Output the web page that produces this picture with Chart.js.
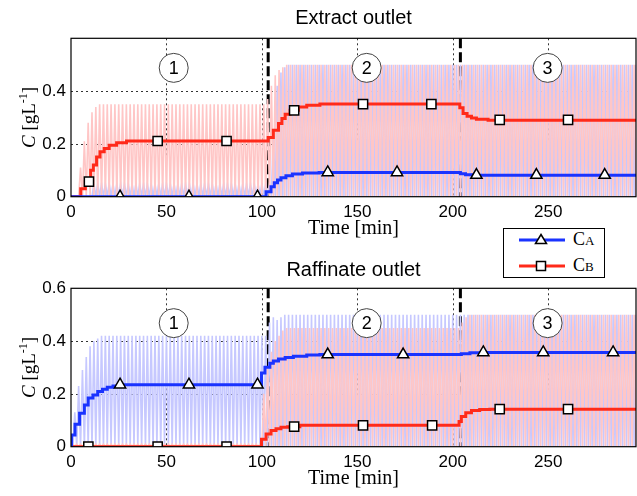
<!DOCTYPE html>
<html>
<head>
<meta charset="utf-8">
<script src="https://cdn.jsdelivr.net/npm/chart.js@4.4.0/dist/chart.umd.min.js"></script>
<style>
  body { margin: 0; background: #fff; }
  #wrap { position: relative; width: 637px; height: 496px; }
  #extractChart { position: absolute; left: 0; top: 0; }
  #raffinateChart { position: absolute; left: 0; top: 250px; }
  .legend {
    position: absolute; left: 503px; top: 228px; width: 100px; height: 48px;
    border: 1.3px solid #000; background: #fff; z-index: 2;
    font-family: "Liberation Serif", "DejaVu Serif", serif;
  }
  .legend .row { position: absolute; left: 0; height: 20px; width: 100px; }
  .legend svg { position: absolute; left: 15px; top: 0; }
  .legend .lbl { position: absolute; left: 69px; top: -1px; font-size: 18px; line-height: 20px; }
  .legend .lbl small { font-size: 13px; }
</style>
</head>
<body>
<div id="wrap">
  <canvas id="extractChart" width="637" height="250"></canvas>
  <canvas id="raffinateChart" width="637" height="246"></canvas>
  <div class="legend">
    <div class="row" style="top: 1px;">
      <svg width="46" height="20"><line x1="0" y1="10" x2="46" y2="10" stroke="#1a33ff" stroke-width="3"/><polygon points="22,4.5 27.5,13.5 16.5,13.5" fill="#fff" stroke="#000" stroke-width="1.5"/></svg>
      <span class="lbl">C<small>A</small></span>
    </div>
    <div class="row" style="top: 27px;">
      <svg width="46" height="20"><line x1="0" y1="10" x2="46" y2="10" stroke="#ff2a1a" stroke-width="3"/><rect x="17.5" y="5.5" width="9" height="9" fill="#fff" stroke="#000" stroke-width="1.5"/></svg>
      <span class="lbl">C<small>B</small></span>
    </div>
  </div>
</div>
<script>
// ---------- data (time in min, concentration in g/L) ----------

const timeTicks = [0, 50, 100, 150, 200, 250];
const extractConcTicks = [0, 0.2, 0.4];
const raffinateConcTicks = [0, 0.2, 0.4, 0.6];

const switchPeriod = 2;
const phaseChanges = [103.3, 204];
const zoneLabels = ['1', '2', '3'];

function rep(v, n) {
    return Array(n).fill(v);
}

// Extract outlet, switch-averaged curves (step start time / value)
const extractTimeA = [0, 102.2, 104.8, 106.5, 108.2, 110, 112.6, 116, 121.3, 130, 204, 206.7, 212, 296];
const extractA = [0, 0.019, 0.038, 0.053, 0.063, 0.072, 0.079, 0.086, 0.09, 0.092, 0.087, 0.083, 0.081, 0.081];
const extractTimeB = [0, 5.1, 7.5, 10.3, 11.7, 13.4, 15.2, 17.4, 20, 23.9, 29.1, 103.3, 106, 108.7, 110.5, 112.2, 114.8, 119.2, 123.5, 130.4, 203.7, 205.4, 207.5, 209.8, 212.4, 218.5, 296];
const extractB = [0, 0.03, 0.057, 0.1, 0.12, 0.15, 0.17, 0.183, 0.195, 0.204, 0.211, 0.224, 0.252, 0.277, 0.296, 0.312, 0.327, 0.34, 0.346, 0.351, 0.337, 0.315, 0.305, 0.298, 0.293, 0.29, 0.29];

// Extract outlet markers
const extractMarkTimeA = [25.7, 61.8, 97.7, 134.5, 170.8, 212.4, 243.8, 279.6];
const extractMarkA = [0, 0, 0, 0.092, 0.092, 0.082, 0.082, 0.082];
const extractMarkTimeB = [9.4, 45.4, 81.5, 116.9, 153, 188.8, 224.6, 260.4];
const extractMarkB = [0.057, 0.211, 0.211, 0.327, 0.351, 0.351, 0.291, 0.291];

// Extract outlet raw signal, peak value in each switching period
const extractPeaksA = [...rep(0, 5), ...rep(0.05, 47), 0.25, 0.42, 0.47, 0.49, ...rep(0.5, 92)];
const extractPeaksB = [0, 0, 0.11, 0.21, 0.28, 0.32, 0.34, ...rep(0.35, 44), 0.37, 0.42, 0.46, 0.48, 0.49, ...rep(0.5, 92)];

// Raffinate outlet, switch-averaged curves
const raffinateTimeA = [0, 0.3, 2.1, 4.5, 7, 9, 11.5, 14, 16.5, 19, 22, 26, 99.8, 101.6, 104.2, 106, 108.7, 112.2, 116.5, 123.5, 130.4, 204.5, 209, 216, 296];
const raffinateA = [0, 0.044, 0.085, 0.127, 0.158, 0.184, 0.196, 0.209, 0.218, 0.225, 0.23, 0.235, 0.279, 0.301, 0.316, 0.325, 0.332, 0.338, 0.343, 0.347, 0.349, 0.352, 0.356, 0.357, 0.357];
const raffinateTimeB = [0, 99.8, 102.2, 104.8, 107.4, 110, 113.5, 119.9, 203.3, 204.5, 206.8, 209.8, 214.1, 219.4, 296];
const raffinateB = [0, 0.028, 0.048, 0.061, 0.068, 0.074, 0.076, 0.081, 0.095, 0.114, 0.129, 0.137, 0.141, 0.142, 0.142];

// Raffinate outlet markers
const raffinateMarkTimeA = [25.7, 61.8, 97.7, 134.5, 174, 216, 247.4, 284];
const raffinateMarkA = [0.235, 0.235, 0.235, 0.349, 0.349, 0.357, 0.357, 0.357];
const raffinateMarkTimeB = [9.1, 45.4, 81.5, 116.9, 153, 189.2, 224.6, 260.4];
const raffinateMarkB = [0, 0, 0, 0.076, 0.081, 0.081, 0.142, 0.142];

// Raffinate outlet raw signal, peak value in each switching period
const raffinatePeaksA = [0.13, 0.23, 0.29, 0.34, 0.38, 0.40, 0.41, ...rep(0.42, 44), 0.47, 0.49, 0.48, 0.49, ...rep(0.5, 93)];
const raffinatePeaksB = [...rep(0.01, 50), 0.2, 0.3, 0.36, 0.4, 0.42, 0.44, ...rep(0.45, 46), 0.47, 0.49, ...rep(0.5, 44)];

// ---------- styling ----------

const BLUE = '#1a33ff';
const RED = '#ff2a1a';
const PALE_BLUE = '#c6c8ff';
const PALE_RED = '#ffc6c6';
const SANS = '"Liberation Sans", Arial, sans-serif';
const SERIF = '"Liberation Serif", "DejaVu Serif", serif';

const AREA_TOP = 38.3;
const AREA_BOTTOM = 196.7;
const AREA_LEFT = 71;

function toPoints(times, values) {
    return times.map((t, i) => ({x: t, y: values[i]}));
}

// saw-tooth of the outlet signal, one tooth per switching period
function rawSignal(peaks, shift) {
    const pts = [];
    peaks.forEach((p, k) => {
        pts.push({x: k * switchPeriod + shift, y: 0});
        pts.push({x: k * switchPeriod + shift + switchPeriod / 2, y: p});
    });
    pts.push({x: peaks.length * switchPeriod + shift, y: 0});
    return pts;
}

const outletDecor = {
    id: 'outletDecor',
    beforeDatasetsDraw(chart, args, opts) {
        const {ctx, chartArea: a, scales: {x, y}} = chart;
        ctx.save();
        // dotted grid
        ctx.strokeStyle = '#000';
        ctx.lineWidth = 0.8;
        ctx.setLineDash([2, 3]);
        ctx.beginPath();
        timeTicks.slice(1).forEach(v => {
            const px = Math.round(x.getPixelForValue(v)) + 0.5;
            ctx.moveTo(px, a.top);
            ctx.lineTo(px, a.bottom);
        });
        opts.yTicks.slice(1).forEach(v => {
            const py = Math.round(y.getPixelForValue(v)) + 0.5;
            if (py <= a.top + 1) return;
            ctx.moveTo(a.left, py);
            ctx.lineTo(a.right, py);
        });
        ctx.stroke();
        // feed change markers
        ctx.lineWidth = 3;
        ctx.setLineDash([10, 4]);
        ctx.beginPath();
        phaseChanges.forEach(v => {
            const px = x.getPixelForValue(v);
            ctx.moveTo(px, a.top);
            ctx.lineTo(px, a.bottom);
        });
        ctx.stroke();
        ctx.restore();
    },
    afterDatasetsDraw(chart, args, opts) {
        const {ctx, chartArea: a, scales: {x, y}} = chart;
        ctx.save();
        // zone labels
        zoneLabels.forEach((lbl, i) => {
            const cx = x.getPixelForValue(opts.zoneTimes[i]);
            const cy = y.getPixelForValue(opts.zoneLevel);
            ctx.beginPath();
            ctx.arc(cx, cy, 14.5, 0, Math.PI * 2);
            ctx.fillStyle = '#fff';
            ctx.fill();
            ctx.lineWidth = 1;
            ctx.strokeStyle = '#444';
            ctx.stroke();
            ctx.fillStyle = '#000';
            ctx.font = '18px ' + SANS;
            ctx.textAlign = 'center';
            ctx.textBaseline = 'middle';
            ctx.fillText(lbl, cx, cy + 1);
        });
        // frame
        ctx.strokeStyle = '#000';
        ctx.lineWidth = 1.2;
        ctx.strokeRect(a.left, a.top, a.right - a.left, a.bottom - a.top);
        ctx.restore();
    },
    afterDraw(chart, args, opts) {
        const {ctx, chartArea: a} = chart;
        const midX = (a.left + a.right) / 2;
        ctx.save();
        ctx.fillStyle = '#000';
        ctx.textAlign = 'center';
        ctx.textBaseline = 'alphabetic';
        ctx.font = '20px ' + SANS;
        ctx.fillText(opts.title, midX, opts.titleBaseline);
        ctx.font = '20px ' + SERIF;
        ctx.fillText('Time [min]', midX, 234);

        // y label: C [gL^-1], rotated
        const parts = [
            {t: 'C', font: 'italic 19px ' + SERIF, dy: 0},
            {t: ' [gL', font: '19px ' + SERIF, dy: 0},
            {t: '-1', font: '12px ' + SERIF, dy: -8},
            {t: ']', font: '19px ' + SERIF, dy: 0}
        ];
        let total = 0;
        parts.forEach(p => {
            ctx.font = p.font;
            p.w = ctx.measureText(p.t).width;
            total += p.w;
        });
        ctx.translate(28, (a.top + a.bottom) / 2);
        ctx.rotate(-Math.PI / 2);
        ctx.textAlign = 'left';
        let cur = -total / 2;
        parts.forEach(p => {
            ctx.font = p.font;
            ctx.fillText(p.t, cur, 6.5 + p.dy);
            cur += p.w;
        });
        ctx.restore();
    }
};

function makeChart(canvasId, d) {
    const canvas = document.getElementById(canvasId);
    const height = canvas.height;
    return new Chart(canvas, {
        type: 'line',
        data: {
            datasets: [
                {data: rawSignal(d.peaksB, 0), borderColor: PALE_RED, borderWidth: 1.6, pointRadius: 0, order: 10},
                {data: rawSignal(d.peaksA, switchPeriod / 2), borderColor: PALE_BLUE, borderWidth: 1.6, pointRadius: 0, order: 11},
                {data: toPoints(d.timeB, d.valB), borderColor: RED, borderWidth: 3, stepped: true, pointRadius: 0, order: 5},
                {data: toPoints(d.timeA, d.valA), borderColor: BLUE, borderWidth: 3, stepped: true, pointRadius: 0, order: 4},
                {
                    data: toPoints(d.markTimeB, d.markB), showLine: false, pointStyle: 'rect', pointRadius: 6.5,
                    pointBackgroundColor: '#fff', pointBorderColor: '#000', pointBorderWidth: 1.5, order: 1
                },
                {
                    data: toPoints(d.markTimeA, d.markA), showLine: false, pointStyle: 'triangle', pointRadius: 6.5,
                    pointBackgroundColor: '#fff', pointBorderColor: '#000', pointBorderWidth: 1.5, order: 0
                }
            ]
        },
        options: {
            responsive: false,
            animation: false,
            layout: {autoPadding: false, padding: {top: AREA_TOP, right: 1, left: 0, bottom: 0}},
            plugins: {
                legend: {display: false},
                tooltip: {enabled: false},
                outletDecor: {
                    title: d.title,
                    titleBaseline: d.titleBaseline,
                    yTicks: d.yTicks,
                    zoneTimes: [53.8, 154.9, 249.7],
                    zoneLevel: d.zoneLevel
                }
            },
            scales: {
                x: {
                    type: 'linear',
                    min: 0,
                    max: 296,
                    afterBuildTicks: s => { s.ticks = timeTicks.map(v => ({value: v})); },
                    afterFit: s => {
                        s.height = height - AREA_BOTTOM;
                        s.paddingLeft = 0;
                        s.paddingRight = 0;
                    },
                    grid: {display: false, drawTicks: false},
                    border: {display: false},
                    ticks: {
                        color: '#000', padding: 5, maxRotation: 0, autoSkip: false,
                        font: {family: SANS, size: 17},
                        callback: v => String(v)
                    }
                },
                y: {
                    type: 'linear',
                    min: 0,
                    max: 0.6,
                    afterBuildTicks: s => { s.ticks = d.yTicks.map(v => ({value: v})); },
                    afterFit: s => {
                        s.width = AREA_LEFT;
                        s.paddingTop = 0;
                        s.paddingBottom = 0;
                    },
                    grid: {display: false, drawTicks: false},
                    border: {display: false},
                    ticks: {
                        color: '#000', padding: 5, autoSkip: false,
                        font: {family: SANS, size: 17},
                        callback: v => (v === 0 ? '0' : v.toFixed(1))
                    }
                }
            }
        },
        plugins: [outletDecor]
    });
}

makeChart('extractChart', {
    title: 'Extract outlet', titleBaseline: 24, yTicks: extractConcTicks, zoneLevel: 0.488,
    timeA: extractTimeA, valA: extractA, timeB: extractTimeB, valB: extractB,
    markTimeA: extractMarkTimeA, markA: extractMarkA, markTimeB: extractMarkTimeB, markB: extractMarkB,
    peaksA: extractPeaksA, peaksB: extractPeaksB
});

makeChart('raffinateChart', {
    title: 'Raffinate outlet', titleBaseline: 26, yTicks: raffinateConcTicks, zoneLevel: 0.468,
    timeA: raffinateTimeA, valA: raffinateA, timeB: raffinateTimeB, valB: raffinateB,
    markTimeA: raffinateMarkTimeA, markA: raffinateMarkA, markTimeB: raffinateMarkTimeB, markB: raffinateMarkB,
    peaksA: raffinatePeaksA, peaksB: raffinatePeaksB
});
</script>
</body>
</html>
